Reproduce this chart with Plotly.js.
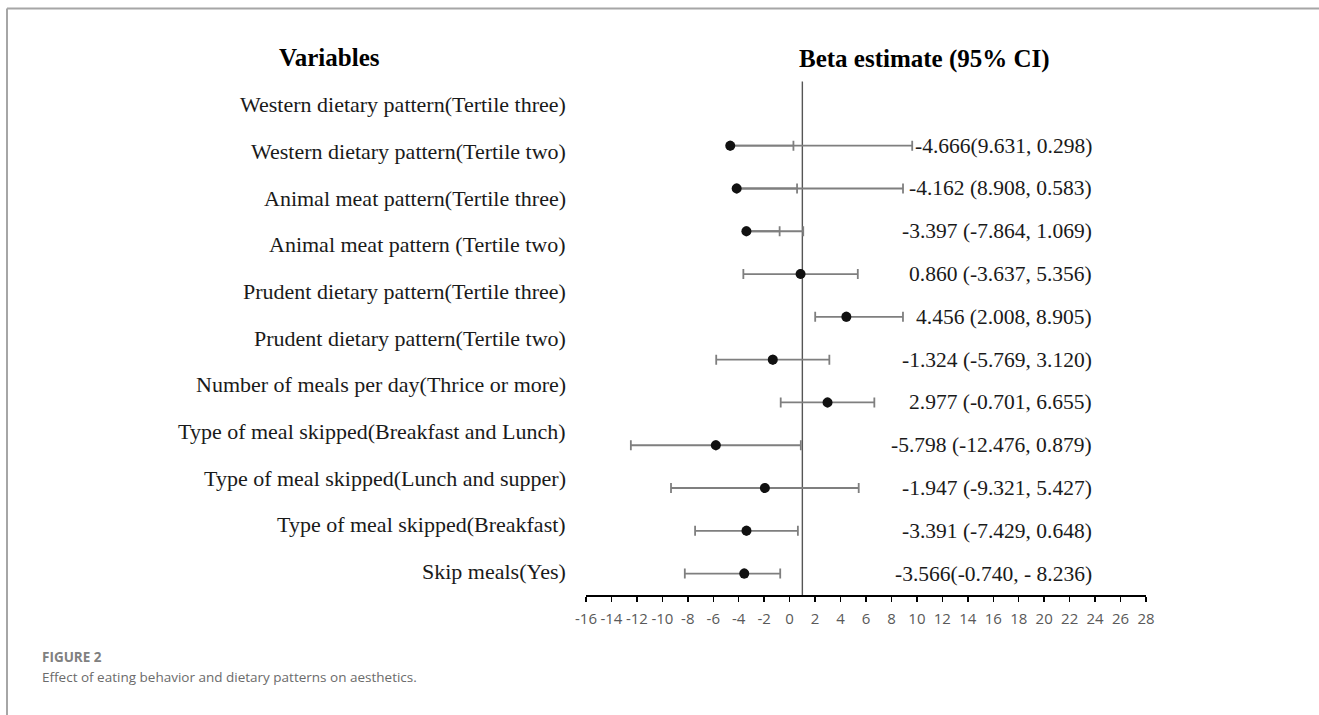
<!DOCTYPE html>
<html>
<head>
<meta charset="utf-8">
<script src="https://cdn.plot.ly/plotly-3.0.1.min.js"></script>
<style>
  html, body { margin: 0; padding: 0; background: #fff; }
  #chart { width: 1319px; height: 715px; }
</style>
</head>
<body>
<div id="chart"></div>
<script>
// ---------- data ----------
var variableLabels = [
  "Western dietary pattern(Tertile three)",
  "Western dietary pattern(Tertile two)",
  "Animal meat pattern(Tertile three)",
  "Animal meat pattern (Tertile two)",
  "Prudent dietary pattern(Tertile three)",
  "Prudent dietary pattern(Tertile two)",
  "Number of meals per day(Thrice or more)",
  "Type of meal skipped(Breakfast and Lunch)",
  "Type of meal skipped(Lunch and supper)",
  "Type of meal skipped(Breakfast)",
  "Skip meals(Yes)"
];
var rowIndex = [1, 2, 3, 4, 5, 6, 7, 8, 9, 10, 11];
var beta = [-4.666, -4.162, -3.397, 0.860, 4.456, -1.324, 2.977, -5.798, -1.947, -3.391, -3.566];
// error-bar ends as drawn in the figure
var barEndA = [9.631, 8.908, -0.786, -3.637, 2.008, -5.769, -0.701, -12.476, -9.321, -7.429, -0.740];
var barEndB = [0.298, 0.583, 1.069, 5.356, 8.905, 3.120, 6.655, 0.879, 5.427, 0.648, -8.236];
var ciText = [
  "-4.666(9.631, 0.298)",
  "-4.162 (8.908, 0.583)",
  "-3.397 (-7.864, 1.069)",
  "0.860 (-3.637, 5.356)",
  "4.456 (2.008, 8.905)",
  "-1.324 (-5.769, 3.120)",
  "2.977 (-0.701, 6.655)",
  "-5.798 (-12.476, 0.879)",
  "-1.947 (-9.321, 5.427)",
  "-3.391 (-7.429, 0.648)",
  "-3.566(-0.740, - 8.236)"
];
var tickVals = [-16,-14,-12,-10,-8,-6,-4,-2,0,2,4,6,8,10,12,14,16,18,20,22,24,26,28];
var tickText = tickVals.map(function(v){ return String(v); });
var refLine = 1;

// ---------- layout helpers ----------
var W = 1319, H = 715;
var px = function(x){ return x / W; };
var py = function(y){ return 1 - y / H; };
var serif = "Liberation Serif, Times New Roman, serif";
var sans = "Open Sans, sans-serif";
var barColor = "#7f7f7f";

function errSpec(ends) {
  var plus = [], minus = [];
  for (var i = 0; i < beta.length; i++) {
    var d = ends[i] - beta[i];
    plus.push(d > 0 ? d : 0);
    minus.push(d < 0 ? -d : 0);
  }
  return { type: "data", symmetric: false, array: plus, arrayminus: minus,
           color: barColor, thickness: 1.8, width: 5 };
}

var traces = [
  { x: beta, y: rowIndex, type: "scatter", mode: "markers", hoverinfo: "skip",
    marker: { color: "rgba(0,0,0,0)", size: 1 }, error_x: errSpec(barEndA), showlegend: false },
  { x: beta, y: rowIndex, type: "scatter", mode: "markers", hoverinfo: "skip",
    marker: { color: "rgba(0,0,0,0)", size: 1 }, error_x: errSpec(barEndB), showlegend: false },
  { x: beta, y: rowIndex, type: "scatter", mode: "markers",
    marker: { color: "#111111", size: 10 }, showlegend: false }
];

var annotations = [];
var nSlots = rowIndex.length + 1;
variableLabels.forEach(function(t, i){
  annotations.push({ text: t, xref: "paper", yref: "y",
    x: px(568), y: -0.5 + (i + 0.5) * nSlots / variableLabels.length,
    xanchor: "right", yanchor: "middle", showarrow: false,
    font: { family: serif, size: 22, color: "#1a1a1a" } });
});
ciText.forEach(function(t, i){
  annotations.push({ text: t, xref: "paper", yref: "y",
    x: px(1094), y: rowIndex[i], xanchor: "right", yanchor: "middle", showarrow: false,
    font: { family: serif, size: 21.5, color: "#1a1a1a" } });
});
annotations.push({ text: "<b>Variables</b>", xref: "paper", yref: "paper", x: px(329), y: py(57),
  xanchor: "center", yanchor: "middle", showarrow: false, font: { family: serif, size: 25, color: "#000" } });
annotations.push({ text: "<b>Beta estimate (95% CI)</b>", xref: "paper", yref: "paper", x: px(924), y: py(59),
  xanchor: "center", yanchor: "middle", showarrow: false, font: { family: serif, size: 25, color: "#000" } });
annotations.push({ text: "<b>FIGURE 2</b>", xref: "paper", yref: "paper", x: px(40), y: py(657),
  xanchor: "left", yanchor: "middle", showarrow: false, font: { family: sans, size: 13.5, color: "#808080" } });
annotations.push({ text: "Effect of eating behavior and dietary patterns on aesthetics.", xref: "paper", yref: "paper",
  x: px(40), y: py(677), xanchor: "left", yanchor: "middle", showarrow: false,
  font: { family: sans, size: 13.5, color: "#6b6b6b" } });

var layout = {
  width: W, height: H, autosize: false,
  margin: { l: 0, r: 0, t: 0, b: 0, pad: 0 },
  paper_bgcolor: "#fff", plot_bgcolor: "rgba(0,0,0,0)",
  showlegend: false,
  xaxis: {
    domain: [px(586), px(1146)], range: [-16, 28], fixedrange: true,
    tickmode: "array", tickvals: tickVals, ticktext: tickText,
    ticks: "outside", ticklen: 5, tickwidth: 1.5, tickcolor: "#000",
    showline: true, linecolor: "#000", linewidth: 1.5,
    showgrid: false, zeroline: false, ticklabelstandoff: 4,
    tickfont: { family: sans, size: 15, color: "#595959" }
  },
  yaxis: {
    domain: [py(595), py(81.5)], range: [11.5, -0.5], fixedrange: true,
    showticklabels: false, ticks: "", showline: false, showgrid: false, zeroline: false
  },
  shapes: [
    { type: "line", xref: "x", yref: "y domain", x0: refLine, x1: refLine, y0: 0, y1: 1,
      line: { color: "#555555", width: 1.4 }, layer: "below" },
    { type: "line", xref: "paper", yref: "paper", x0: px(7), x1: 1, y0: py(8.5), y1: py(8.5),
      line: { color: "#a6a6a6", width: 2 } },
    { type: "line", xref: "paper", yref: "paper", x0: px(7), x1: px(7), y0: 0, y1: py(8.5),
      line: { color: "#a6a6a6", width: 2 } }
  ],
  annotations: annotations
};

Plotly.newPlot("chart", traces, layout, { displayModeBar: false, staticPlot: true });
</script>
</body>
</html>
